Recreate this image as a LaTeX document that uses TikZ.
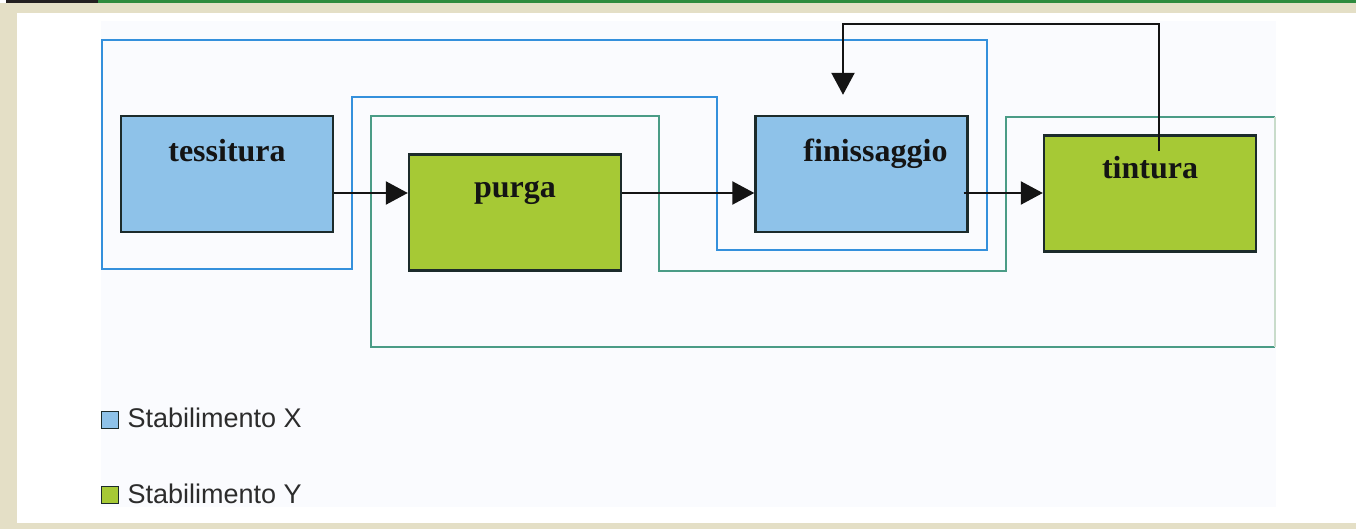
\documentclass[tikz,border=0pt]{standalone}
\usepackage{fontspec}
\setmainfont{Liberation Serif}
\setsansfont{Liberation Sans}
\usetikzlibrary{arrows.meta}
\definecolor{beige}{HTML}{E4DFC6}
\definecolor{topgreen}{HTML}{2E8B3E}
\definecolor{topdark}{HTML}{231F20}
\definecolor{panel}{HTML}{FAFBFE}
\definecolor{lineblue}{HTML}{3490DC}
\definecolor{lineteal}{HTML}{4A9C86}
\definecolor{lineright}{HTML}{C9DCCB}
\definecolor{fillblue}{HTML}{8EC2E9}
\definecolor{fillgreen}{HTML}{A6C935}
\definecolor{edge}{HTML}{1C2B2B}
\definecolor{ink}{HTML}{141414}
\begin{document}
\begin{tikzpicture}[x=1pt,y=-1pt,
  procbox/.style={draw=edge, line width=2.4pt, minimum width=212pt, minimum height=116pt,
    inner xsep=0pt, inner ysep=0pt, text=ink, font=\bfseries\fontsize{32}{32}\selectfont},
  xbox/.style={procbox, fill=fillblue, text height=46pt, text depth=70pt},
  ybox/.style={procbox, fill=fillgreen, text height=43.5pt, text depth=72.5pt},
  arr/.style={draw=ink, line width=2.3pt, -{Triangle[length=22pt,width=23pt]}},
  blueline/.style={draw=lineblue, line width=2.5pt},
  tealline/.style={draw=lineteal, line width=2.3pt},
  legsq/.style={draw=edge, line width=1.6pt, minimum size=17pt, inner sep=0pt},
  legtext/.style={anchor=base west, text=ink!90, font=\sffamily\fontsize{27}{27}\selectfont}]
\useasboundingbox (0,0) rectangle (1356,529);
% frame
\fill[beige] (0,0) rectangle (1356,529);
\fill[white] (17,13) rectangle (1356,523);
\fill[white] (0,0) rectangle (6,3);
\fill[topdark] (6,0) rectangle (98,3.2);
\fill[topgreen] (98,0) rectangle (1356,3.2);
\fill[panel] (101,21) rectangle (1276,507);
% plant outlines
\draw[blueline] (102,40) -- (987,40) -- (987,250) -- (717,250) -- (717,97) -- (352,97) -- (352,269) -- (102,269) -- cycle;
\draw[tealline] (1275,347) -- (371,347) -- (371,116) -- (659,116) -- (659,271) -- (1006,271) -- (1006,117) -- (1275,117);
\draw[draw=lineright, line width=2.2pt] (1275,117) -- (1275,347);
% process boxes
\node[xbox] (tess) at (227,174) {tessitura};
\node[ybox] (purga) at (515,212.5) {purga};
\node[xbox] (fin) at (861.5,174) {\hspace*{28pt}finissaggio};
\node[ybox] (tint) at (1150,193.5) {tintura};
% connectors
\coordinate (row) at (0,193);
\draw[arr] (tess.east |- row) -- (purga.west |- row);
\draw[arr] (purga.east |- row) -- (fin.west |- row);
\draw[arr] ([xshift=-5pt]fin.east |- row) -- (tint.west |- row);
\coordinate (fbs) at ([xshift=9pt,yshift=-17pt]tint.north);
\coordinate (fbe) at ([xshift=-18.5pt,yshift=20pt]fin.north);
\coordinate (fbtop) at (0,24);
\draw[arr] (fbs) -- (fbs |- fbtop) -| (fbe);
% legend
\node[legsq, fill=fillblue] (sqx) at (110,420) {};
\node[legtext] (lx) at (124,427) {Stabilimento X};
\node[legsq, fill=fillgreen] (sqy) at (110,495) {};
\node[legtext] (ly) at (124,503) {Stabilimento Y};
\end{tikzpicture}
\end{document}
